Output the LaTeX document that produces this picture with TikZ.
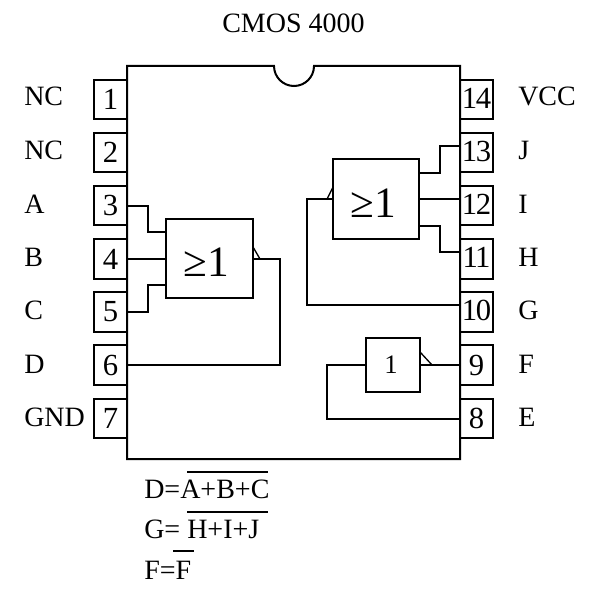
\documentclass[tikz,border=0pt]{standalone}
\usepackage{fontspec}
\setmainfont{Liberation Serif}
\newfontfamily\tightfont[LetterSpace=-5]{Liberation Serif}
\newcommand{\fsA}{\fontsize{21pt}{25pt}\selectfont}
\newcommand{\fsB}{\fontsize{23pt}{27pt}\selectfont}
\newcommand{\fsT}{\tightfont\fontsize{23pt}{27pt}\selectfont}
\newcommand{\fsC}{\fontsize{32.5pt}{38pt}\selectfont}
\newcommand{\fsG}{\fontsize{20pt}{24pt}\selectfont}
\tikzset{
  wire/.style={line width=1.5pt,line join=miter},
  tick/.style={line width=1pt},
  pinbox/.style={draw,line width=1.5pt,minimum width=24.75pt,minimum height=29.6pt,inner sep=0pt,font=\fsB},
  pinboxb/.style={pinbox,font=\fsT,text depth=2.2pt},
  gatebox/.style={draw,line width=1.5pt,inner sep=0pt},
  lab/.style={anchor=base west,inner sep=0pt,font=\fsA},
  formula/.style={anchor=base west,inner sep=0pt,font=\fsA},
}
\begin{document}
\begin{tikzpicture}[x=0.75pt,y=-0.75pt]
\useasboundingbox (0,0) rectangle (602,599);
\node[anchor=base,inner sep=0pt,font=\fsA] (title) at (293.5,33) {CMOS 4000};
% package outline with notch
\draw[wire] (127,459) -- (127,66) -- (274,66) arc[start angle=180,end angle=360,radius=15pt] -- (460,66) -- (460,459) -- cycle;
% pins
\foreach \n/\y in {1/99.5,2/152.5,3/205.5,4/259,5/312,6/365,7/418.5}{
  \node[pinbox] (p\n) at (110.5,\y) {\n};
}
\foreach \n/\y in {14/99.5,13/152.5,12/205.5,11/259,10/312}{
  \node[pinboxb] (p\n) at (476.5,\y) {\n};
}
\foreach \n/\y in {9/365,8/418.5}{
  \node[pinbox] (p\n) at (476.5,\y) {\n};
}
% pin names
\foreach \t/\y in {NC/106,NC/159,A/213,B/266,C/319,D/373,GND/426}{
  \node[lab] (l\t\y) at (24,\y) {\t};
}
\foreach \t/\y in {VCC/106,J/159,I/213,H/266,G/319,F/373,E/426}{
  \node[lab] (r\t\y) at (518,\y) {\t};
}
% gates
\node[gatebox,minimum width=65pt,minimum height=59.5pt] (g1) at (209.5,258.5) {};
\node[gatebox,minimum width=65pt,minimum height=59.5pt] (g2) at (376,199) {};
\node[gatebox,minimum width=40pt,minimum height=40pt] (g3) at (393,365) {};
\node[anchor=base,inner sep=0pt,font=\fsC] (t1) at (206.7,276) {≥1};
\node[anchor=base,inner sep=0pt,font=\fsC] (t2) at (373,217) {≥1};
\node[anchor=base,inner sep=0pt,font=\fsG] (t3) at (391,373) {1};
% junction helpers
\coordinate (g1a) at (166.5,232);
\coordinate (g1b) at (166.5,285);
\coordinate (m1) at (147.5,259);
\coordinate (g1o) at (280,259);
\coordinate (g2a) at (419,172.5);
\coordinate (g2b) at (419,226);
\coordinate (m2) at (440,199);
\coordinate (g2i) at (307,199);
\coordinate (g3i) at (327,365);
\coordinate (q13) at (460,146);
\coordinate (q11) at (460,252);
\coordinate (q10) at (460,305);
% connectors gate 1
\draw[wire] (p3.east) -- (p3.east -| m1) -- (g1a -| m1) -- (g1a);
\draw[wire] (p4.east) -- (p4.east -| g1.west);
\draw[wire] (p5.east) -- (p5.east -| m1) -- (g1b -| m1) -- (g1b);
\draw[wire] (g1.east |- g1o) -- (g1o) |- (p6.east);
\draw[tick] (253,247) -- (260,259);
% connectors gate 2
\draw[wire] (g2a) -- (g2a -| m2) -- (q13 -| m2) -- (q13);
\draw[wire] (g2.east) -- (g2.east -| p12.west);
\draw[wire] (g2b) -- (g2b -| m2) -- (q11 -| m2) -- (q11);
\draw[wire] (g2.west) -- (g2i) |- (q10);
\draw[tick] (333,187) -- (327,199);
% connectors gate 3
\draw[wire] (g3.east) -- (p9.west);
\draw[wire] (g3.west) -- (g3i) |- (p8.west);
\draw[tick] (420,352) -- (432,365);
% formulas
\node[formula] (f1) at (144,498) {D=A+B+C};
\node[formula] (f2) at (144,538) {G= H+I+J};
\node[formula] (f3) at (144,579) {F=F};
\draw[wire] (187,471.7) -- (268,471.7);
\draw[wire] (187,511.7) -- (268,511.7);
\draw[wire] (173,551) -- (194,551);
\end{tikzpicture}
\end{document}
